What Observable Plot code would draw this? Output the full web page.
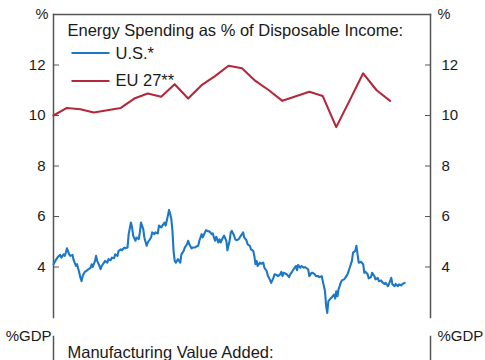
<!DOCTYPE html>
<html><head><meta charset="utf-8">
<script src="https://cdn.jsdelivr.net/npm/d3@7"></script>
<script src="https://cdn.jsdelivr.net/npm/@observablehq/plot@0.6"></script>
<style>
html,body{margin:0;padding:0;overflow:hidden;background:#fff;width:485px;height:360px}
#chart svg{display:block}
</style>
</head><body><div id="chart"></div>
<script>
// ---- data ----
const usMonths = ["2000-01","2000-03","2000-05","2000-07","2000-08","2000-10","2000-11","2000-12",
"2001-01","2001-03","2001-04","2001-06","2001-07","2001-09","2001-10","2001-12",
"2002-01","2002-02","2002-03","2002-05","2002-07","2002-08","2002-10","2002-11","2002-12",
"2003-02","2003-03","2003-04","2003-06","2003-07","2003-08","2003-10","2003-11",
"2004-01","2004-02","2004-04","2004-05","2004-07","2004-08","2004-10","2004-11",
"2005-01","2005-02","2005-04","2005-05","2005-07","2005-08","2005-10","2005-11","2005-12",
"2006-02","2006-03","2006-05","2006-06","2006-07","2006-09","2006-10","2006-12",
"2007-01","2007-03","2007-04","2007-05","2007-07","2007-08","2007-10","2007-11",
"2008-01","2008-02","2008-04","2008-05","2008-07","2008-08","2008-09","2008-10","2008-11","2008-12",
"2009-01","2009-02","2009-04","2009-05","2009-06","2009-07","2009-09","2009-10","2009-12",
"2010-01","2010-02","2010-04","2010-05","2010-07","2010-08","2010-10","2010-11",
"2011-01","2011-02","2011-04","2011-05","2011-07","2011-08","2011-10","2011-11","2011-12",
"2012-01","2012-02","2012-04","2012-05","2012-06","2012-08","2012-09","2012-11","2012-12",
"2013-02","2013-03","2013-04","2013-06","2013-07","2013-08","2013-10","2013-11",
"2014-01","2014-02","2014-03","2014-05","2014-06","2014-08","2014-09","2014-11","2014-12",
"2015-01","2015-02","2015-03","2015-05","2015-06","2015-08","2015-09","2015-11","2015-12",
"2016-02","2016-03","2016-05","2016-06","2016-08","2016-09","2016-11","2016-12",
"2017-01","2017-02","2017-04","2017-05","2017-07","2017-08","2017-10","2017-11",
"2018-01","2018-02","2018-03","2018-05","2018-06","2018-08","2018-09","2018-10","2018-12",
"2019-01","2019-03","2019-04","2019-06","2019-07","2019-09","2019-10","2019-12",
"2020-01","2020-03","2020-04","2020-05","2020-06","2020-08","2020-09","2020-11","2020-12",
"2021-01","2021-02","2021-03","2021-05","2021-06","2021-08","2021-09","2021-11","2021-12",
"2022-01","2022-03","2022-04","2022-06","2022-07","2022-08","2022-09","2022-11",
"2023-01","2023-02","2023-03","2023-05","2023-06","2023-08","2023-09","2023-11","2023-12",
"2024-02","2024-03","2024-05","2024-06","2024-08","2024-09","2024-11","2024-12",
"2025-02","2025-03","2025-05","2025-06","2025-08","2025-09","2025-11","2025-12","2026-02"];
const usValues = [4.11,4.27,4.40,4.48,4.37,4.50,4.44,4.57,
4.74,4.50,4.44,4.48,4.27,4.04,4.11,3.77,
3.57,3.44,3.64,3.81,3.87,3.91,3.97,4.11,4.00,
4.24,4.44,4.24,4.04,3.91,4.04,4.17,4.24,
4.17,4.31,4.27,4.37,4.35,4.50,4.44,4.64,
4.70,4.66,4.77,4.74,4.77,5.30,5.76,5.57,5.24,
5.04,5.17,5.10,5.37,5.76,5.50,5.17,4.84,
4.97,5.10,5.17,5.37,5.30,5.37,5.33,5.64,
5.57,5.64,5.76,5.64,6.04,6.26,6.10,5.90,5.43,4.64,
4.24,4.17,4.31,4.24,4.17,4.50,4.64,4.77,4.90,
5.04,4.90,4.74,4.77,4.77,4.80,4.84,5.04,
5.30,5.17,5.37,5.46,5.41,5.41,5.30,5.33,5.17,
5.04,5.20,4.97,5.10,4.97,5.17,5.24,5.04,4.66,
5.06,5.37,5.43,5.24,5.10,5.06,5.10,5.17,
5.30,5.37,5.17,5.06,4.90,4.84,4.70,4.64,4.44,
4.11,4.24,4.04,4.17,4.13,4.17,3.97,3.84,3.66,
3.48,3.37,3.57,3.71,3.68,3.64,3.71,3.81,
3.64,3.77,3.73,3.71,3.60,3.71,3.84,3.91,
4.04,3.87,4.08,3.97,4.04,3.97,4.00,3.97,3.91,
3.64,3.77,3.77,3.71,3.64,3.64,3.60,3.64,
3.44,3.04,2.45,2.18,2.65,2.75,2.80,2.91,2.75,
3.04,2.84,3.10,3.37,3.47,3.51,3.57,3.71,3.84,
3.97,4.24,4.57,4.64,4.84,4.50,4.17,4.21,
4.11,3.77,3.81,3.71,3.55,3.60,3.77,3.64,3.51,
3.57,3.44,3.47,3.40,3.33,3.37,3.24,3.33,
3.57,3.33,3.24,3.33,3.24,3.31,3.27,3.33,3.37];
const euYears = [1999,2000,2001,2002,2003,2004,2005,2006,2007,2008,2009,2010,2011,
2012,2013,2014,2015,2016,2017,2018,2019,2020,2021,2022,2023,2024];
const euValues = [10.0,10.30,10.25,10.12,10.21,10.30,10.67,10.87,10.74,11.24,10.67,11.20,11.56,
11.97,11.87,11.37,11.0,10.58,10.76,10.94,10.77,9.54,10.6,11.67,11.0,10.58];
const yTicks = [4, 6, 8, 10, 12];
const yDomain = [2, 14];
const xDomain = ["2000-01", "2028-01"];
const seriesNames = ["U.S.*", "EU 27**"];
const colors = ["#1c77c6", "#b3283a"];
const titleTop = "Energy Spending as % of Disposable Income:";
const unitTop = "%";
const titleBottom = "Manufacturing Value Added:";
const unitBottom = "%GDP";

// ---- build ----
const parseM = d3.utcParse("%Y-%m");
const us = usMonths.map((m, i) => ({date: parseM(m), value: usValues[i]}));
const eu = euYears.map((y, i) => ({date: new Date(Date.UTC(y, 11, 31)), value: euValues[i]}));

const font = "'Liberation Sans', Arial, Helvetica, sans-serif";
const ink = "#1a1a1a";
const axisInk = "#555";

const legendLines = (index, scales, values, dims) => {
  const g = d3.create("svg:g");
  seriesNames.forEach((n, i) => {
    g.append("line")
      .attr("x1", dims.marginLeft + 18.5).attr("x2", dims.marginLeft + 56.5)
      .attr("y1", dims.marginTop + 39 + i * 28).attr("y2", dims.marginTop + 39 + i * 28)
      .attr("stroke", colors[i]).attr("stroke-width", 2);
  });
  return g.node();
};

const plot1 = Plot.plot({
  width: 485, height: 322,
  marginTop: 14, marginBottom: 5, marginLeft: 53, marginRight: 55,
  style: {fontFamily: font, fontSize: "15px", color: ink, background: "#fff"},
  x: {type: "utc", domain: xDomain.map(parseM), axis: null},
  y: {domain: yDomain, axis: null},
  marks: [
    Plot.frame({anchor: "top", stroke: axisInk, strokeWidth: 1.5}),
    Plot.frame({anchor: "left", stroke: axisInk, strokeWidth: 1.5}),
    Plot.frame({anchor: "right", stroke: axisInk, strokeWidth: 1.5}),
    Plot.axisY({anchor: "left", ticks: yTicks, tickSize: 6, insetLeft: 6, tickPadding: 8, label: null, stroke: axisInk, fill: ink, fontSize: 15}),
    Plot.axisY({anchor: "right", ticks: yTicks, tickSize: 6, insetRight: 6, tickPadding: 11, label: null, stroke: axisInk, fill: ink, fontSize: 15}),
    Plot.line(us, {x: "date", y: "value", stroke: colors[0], strokeWidth: 2.1}),
    Plot.line(eu, {x: "date", y: "value", stroke: colors[1], strokeWidth: 2.1}),
    Plot.text([unitTop], {text: d => d, frameAnchor: "top-left", dx: -5, textAnchor: "end", lineAnchor: "middle", fontSize: 14.5, fill: ink}),
    Plot.text([unitTop], {text: d => d, frameAnchor: "top-right", dx: 7, textAnchor: "start", lineAnchor: "middle", fontSize: 14.5, fill: ink}),
    Plot.text([titleTop], {text: d => d, frameAnchor: "top-left", dx: 14, dy: 10, textAnchor: "start", lineAnchor: "top", fontSize: 16.5, fill: ink}),
    Plot.text([seriesNames[0]], {text: d => d, frameAnchor: "top-left", dx: 62, dy: 39, textAnchor: "start", lineAnchor: "middle", fontSize: 16.5, fill: ink}),
    Plot.text([seriesNames[1]], {text: d => d, frameAnchor: "top-left", dx: 62, dy: 66, textAnchor: "start", lineAnchor: "middle", fontSize: 16.5, fill: ink}),
    legendLines
  ]
});

const plot2 = Plot.plot({
  width: 485, height: 120,
  marginTop: 14, marginBottom: 0, marginLeft: 53, marginRight: 55,
  style: {fontFamily: font, fontSize: "15px", color: ink, background: "#fff"},
  marks: [
    Plot.frame({anchor: "left", stroke: axisInk, strokeWidth: 1.5}),
    Plot.frame({anchor: "right", stroke: axisInk, strokeWidth: 1.5}),
    Plot.text([unitBottom], {text: d => d, frameAnchor: "top-left", dx: -2, textAnchor: "end", lineAnchor: "middle", fontSize: 15, fill: ink}),
    Plot.text([unitBottom], {text: d => d, frameAnchor: "top-right", dx: 7, textAnchor: "start", lineAnchor: "middle", fontSize: 15, fill: ink}),
    Plot.text([titleBottom], {text: d => d, frameAnchor: "top-left", dx: 14, dy: 10, textAnchor: "start", lineAnchor: "top", fontSize: 16.5, fill: ink})
  ]
});

document.getElementById("chart").append(plot1, plot2);
</script>
</body></html>
